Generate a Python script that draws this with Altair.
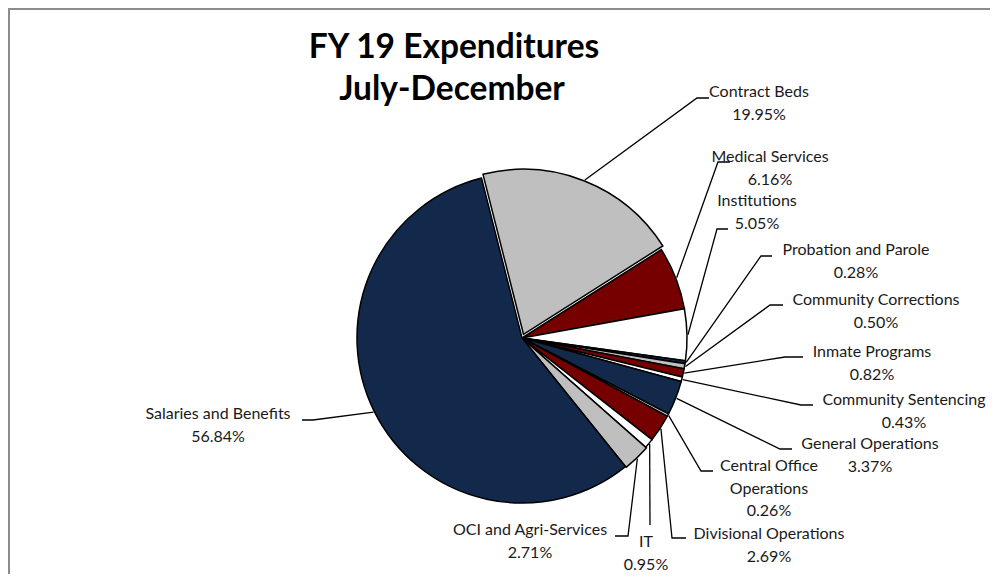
import math
import altair as alt
import pandas as pd

# ---- data ----
names = ["Contract Beds", "Medical Services", "Institutions", "Probation and Parole",
         "Community Corrections", "Inmate Programs", "Community Sentencing",
         "General Operations", "Central Office Operations", "Divisional Operations",
         "IT", "OCI and Agri-Services", "Salaries and Benefits"]
pcts = [19.95, 6.16, 5.05, 0.28, 0.50, 0.82, 0.43, 3.37, 0.26, 2.69, 0.95, 2.71, 56.84]
title_lines = ["FY 19 Expenditures", "July-December"]

# ---- styles / layout ----
NAVY, RED, GRAY, WHITE = "#13294B", "#760000", "#BFBFBF", "#FFFFFF"
slice_colors = [GRAY, RED, WHITE, NAVY, GRAY, RED, WHITE, NAVY, GRAY, RED, WHITE, GRAY, NAVY]
explode = [4, 0, 0, 0, 0, 0, 0, 0, 0, 0, 0, 1, 0]
W, H = 982, 566
CX, CY, R = 522, 338, 165          # page coordinates
START_DEG = -14.2
LH = 22.5
FONT = "Lato"

# label layout: first-line center, leader elbow, leader end (page coords)
label_lines = {"Central Office Operations": ["Central Office", "Operations"]}
layout = {
    "Contract Beds": ((759, 92), (697, 98), (709, 98)),
    "Medical Services": ((770, 157), (718, 162), (730, 162)),
    "Institutions": ((757, 201), (717, 229), (728, 229)),
    "Probation and Parole": ((856, 250), (761, 256), (772, 256)),
    "Community Corrections": ((876, 300), (770, 305), (783, 305)),
    "Inmate Programs": ((872, 352), (785, 357), (803, 357)),
    "Community Sentencing": ((904, 400), (801, 405), (813, 405)),
    "General Operations": ((870, 444), (780, 449), (792, 449)),
    "Central Office Operations": ((769, 466), (701, 471), (713, 471)),
    "Divisional Operations": ((769, 534), (672, 538), (686, 538)),
    "IT": ((646, 542), (650, 525), (650, 525)),
    "OCI and Agri-Services": ((530, 530), (628, 536), (615, 536)),
    "Salaries and Benefits": ((218, 414), (313, 420), (302, 420)),
}

# ---- derived tables ----
total = sum(pcts)
slices, leaders, texts = [], [], []
acc = 0.0
for i, (n, p) in enumerate(zip(names, pcts)):
    a0 = math.radians(START_DEG) + acc / total * 2 * math.pi
    acc += p
    a1 = math.radians(START_DEG) + acc / total * 2 * math.pi
    mid = (a0 + a1) / 2
    ex = explode[i]
    cx = CX + ex * math.sin(mid)
    cy = CY - ex * math.cos(mid)
    slices.append(dict(name=n, idx=i, t0=a0, t1=a1, cx=cx, cy=cy))
    px = cx + (R + 1) * math.sin(mid)
    py = cy - (R + 1) * math.cos(mid)
    (tx, ty), (exx, eyy), (enx, eny) = layout[n]
    for k, (x, y) in enumerate([(px, py), (exx, eyy), (enx, eny)]):
        leaders.append(dict(name=n, k=k, x=x, y=y))
    lines = label_lines.get(n, [n]) + [f"{p:.2f}%"]
    for j, s in enumerate(lines):
        texts.append(dict(name=n, t=s, x=tx, y=ty + j * LH))

xs = alt.Scale(domain=[8, 8 + W], range=[0, W])
ys = alt.Scale(domain=[8, 8 + H], range=[0, H])

sl = pd.DataFrame(slices)
pie = alt.Chart(sl).mark_arc(radius=R, stroke="black", strokeWidth=1.5).encode(
    x=alt.X("cx:Q", scale=xs, axis=None),
    y=alt.Y("cy:Q", scale=ys, axis=None),
    theta=alt.Theta("t0:Q", scale=None),
    theta2="t1:Q",
    color=alt.Color("name:N", scale=alt.Scale(domain=names, range=slice_colors), legend=None),
)

lead = alt.Chart(pd.DataFrame(leaders)).mark_line(color="black", strokeWidth=1.3).encode(
    x=alt.X("x:Q", scale=xs, axis=None),
    y=alt.Y("y:Q", scale=ys, axis=None),
    detail="name:N",
    order="k:Q",
)

lab = alt.Chart(pd.DataFrame(texts)).mark_text(
    font=FONT, fontSize=16, color="#1a1a1a", baseline="middle", align="center"
).encode(
    x=alt.X("x:Q", scale=xs, axis=None),
    y=alt.Y("y:Q", scale=ys, axis=None),
    text="t:N",
)

tdf = pd.DataFrame(dict(t=title_lines, x=[454, 452], y=[58, 100]))
ttl = alt.Chart(tdf).mark_text(
    font=FONT, fontSize=33.5, fontWeight="bold", color="black", baseline="alphabetic", align="center"
).encode(
    x=alt.X("x:Q", scale=xs, axis=None),
    y=alt.Y("y:Q", scale=ys, axis=None),
    text="t:N",
)

border = alt.Chart(pd.DataFrame(dict(x=[9, 9, 1000], y=[600, 9, 9], k=[0, 1, 2]))).mark_line(
    color="#8C8C8C", strokeWidth=2, clip=False
).encode(
    x=alt.X("x:Q", scale=xs, axis=None),
    y=alt.Y("y:Q", scale=ys, axis=None),
    order="k:Q",
)

chart = alt.layer(border, pie, lead, lab, ttl).properties(
    width=W, height=H, padding=0, autosize=alt.AutoSizeParams(type="none")
).configure_view(stroke=None)

chart.save("out.html", embed_options={"renderer": "svg", "actions": False})
